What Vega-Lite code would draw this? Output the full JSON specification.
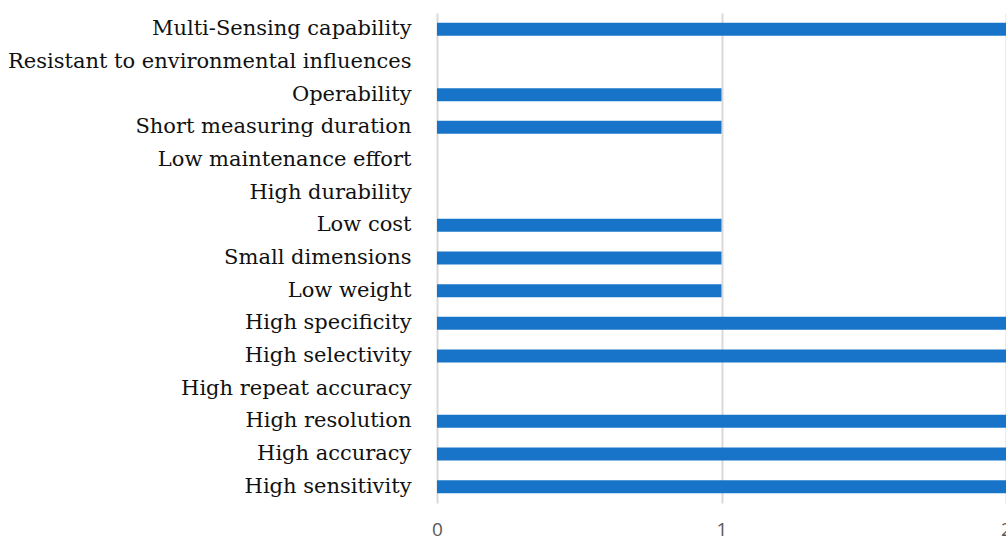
{
  "$schema": "https://vega.github.io/schema/vega-lite/v6.json",
  "autosize": {"type": "none"},
  "padding": {"left": 437, "top": 13, "right": 0, "bottom": 39},
  "width": 569,
  "height": 490,
  "background": "white",
  "data": {"values": [
    {"criterion": "Multi-Sensing capability", "value": 2},
    {"criterion": "Resistant to environmental influences", "value": 0},
    {"criterion": "Operability", "value": 1},
    {"criterion": "Short measuring duration", "value": 1},
    {"criterion": "Low maintenance effort", "value": 0},
    {"criterion": "High durability", "value": 0},
    {"criterion": "Low cost", "value": 1},
    {"criterion": "Small dimensions ", "value": 1},
    {"criterion": "Low weight", "value": 1},
    {"criterion": "High specificity ", "value": 2},
    {"criterion": "High selectivity", "value": 2},
    {"criterion": "High repeat accuracy", "value": 0},
    {"criterion": "High resolution", "value": 2},
    {"criterion": "High accuracy", "value": 2},
    {"criterion": "High sensitivity", "value": 2}
  ]},
  "mark": {"type": "bar", "color": "#1874c8"},
  "encoding": {
    "y": {
      "field": "criterion", "type": "nominal", "sort": null,
      "scale": {"paddingInner": 0.6, "paddingOuter": 0.3},
      "axis": {
        "title": null, "domain": false, "ticks": false, "grid": false,
        "labelFont": "DejaVu Serif", "labelFontSize": 21, "labelColor": "#111111",
        "labelPadding": 26, "labelLimit": 500
      }
    },
    "x": {
      "field": "value", "type": "quantitative",
      "scale": {"domain": [0, 2], "nice": false, "zero": true},
      "axis": {
        "title": null, "values": [0, 1, 2], "format": ".0f", "domain": false, "ticks": false,
        "grid": true, "gridColor": "#d9d9d9", "gridWidth": 2,
        "labelFont": "Open Sans", "labelFontSize": 19, "labelColor": "#595959",
        "labelPadding": 17, "labelFlush": false, "labelOverlap": false, "labelBound": false
      }
    }
  },
  "config": {"view": {"stroke": null}}
}
